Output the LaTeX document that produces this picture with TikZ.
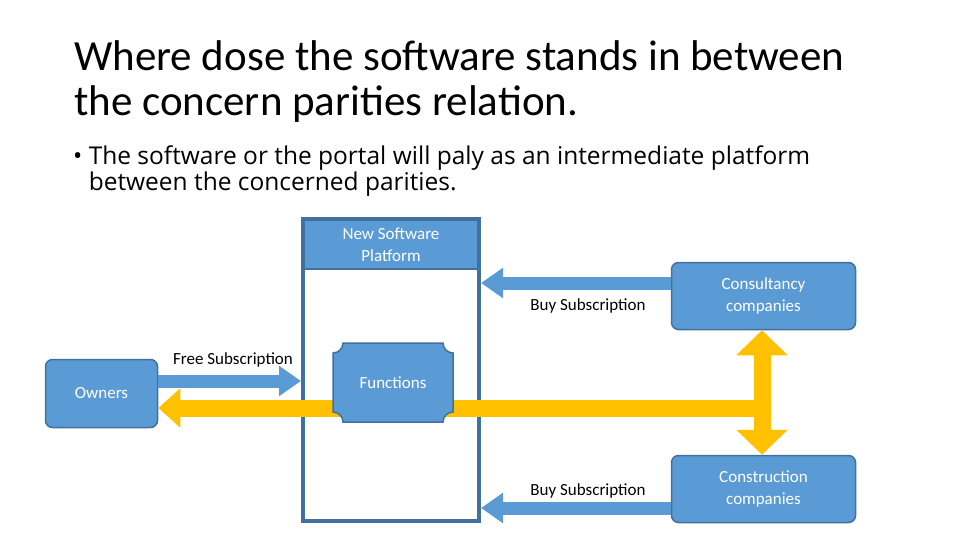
\documentclass[tikz,border=0pt]{standalone}
\usepackage{fontspec}
\setmainfont{Carlito}
\newfontfamily\bodyfont{Open Sans}
\usetikzlibrary{arrows.meta,calc}
\definecolor{fillb}{HTML}{5B9BD5}
\definecolor{lineb}{HTML}{41719C}
\definecolor{gold}{HTML}{FFC000}
\begin{document}
\begin{tikzpicture}[x=1pt,y=-1pt,
  box/.style={draw=lineb,line width=1.5pt,fill=fillb,rounded corners=7pt,text=white,align=center,font=\fontsize{17}{22}\selectfont,inner sep=0pt},
  lbl/.style={font=\fontsize{17}{20}\selectfont,anchor=center},
  barrow/.style={line width=13pt,draw=fillb,-{Triangle[width=29pt,length=22pt]}},
  yarrow/.style={line width=17pt,draw=gold,-{Triangle[width=38pt,length=22pt]}},
  yarrow2/.style={line width=17pt,draw=gold,{Triangle[width=50pt,length=25pt]}-{Triangle[width=50pt,length=25pt]}}]
\useasboundingbox (0,0) rectangle (960,540);
\node[anchor=north west,align=left,inner sep=0pt,font=\fontsize{43}{45}\selectfont] (title) at (74,40) {Where dose the software stands in between\\the concern parities relation.};
\node[anchor=north west,align=left,inner sep=0pt,font=\bodyfont\fontsize{24.5}{26}\selectfont] (bul) at (73,146) {\textbullet\ The software or the portal will paly as an intermediate platform\\\phantom{\textbullet\ }between the concerned parities.};
% platform
\node[draw=lineb,line width=4pt,fill=white,minimum width=176pt,minimum height=302pt,inner sep=0pt] (plat) at (391,370) {};
\node[fill=fillb,text=white,minimum width=172pt,minimum height=47pt,align=center,font=\fontsize{17}{22}\selectfont,inner sep=0pt] (head) at (391,244.5) {New Software\\Platform};
\draw[lineb,line width=2pt] (303,269) -- (479,269);
% boxes
\node[box,minimum width=184pt,minimum height=67pt] (cons) at (763.5,296) {Consultancy\\companies};
\node[box,minimum width=184pt,minimum height=67pt] (constr) at (763.5,489) {Construction\\companies};
\node[box,minimum width=112pt,minimum height=68pt] (own) at (101.5,393.5) {Owners};
% yellow arrows
\coordinate (yr) at (758,408);
\draw[yarrow] (yr) -- (own.east |- yr);
\draw[yarrow2] (cons.south -| 762,0) -- (constr.north -| 762,0);
% functions
\fill[fillb,draw=lineb,line width=1.5pt] (343,343) -- (443,343) arc[start angle=180,end angle=90,radius=10] -- (453,412) arc[start angle=270,end angle=180,radius=10] -- (343,422) arc[start angle=0,end angle=-90,radius=10] -- (333,353) arc[start angle=90,end angle=0,radius=10] -- cycle;
\node[text=white,font=\fontsize{17}{20}\selectfont] (fun) at (393,383) {Functions};
% blue arrows
\draw[barrow] (cons.west |- 0,283) -- (plat.east |- 0,283);
\draw[barrow] (constr.west |- 0,508) -- (plat.east |- 0,508);
\draw[barrow] (own.east |- 0,381) -- (plat.west |- 0,381);
\node[lbl] (l1) at (588,306) {Buy Subscription};
\node[lbl] (l2) at (588,491) {Buy Subscription};
\node[lbl] (l3) at (233,360) {Free Subscription};
\end{tikzpicture}
\end{document}
